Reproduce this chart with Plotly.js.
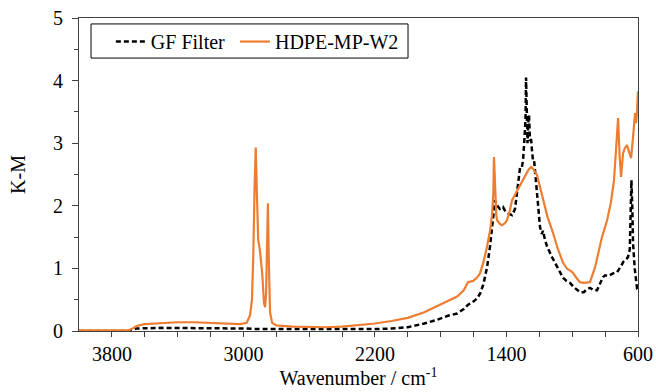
<!DOCTYPE html>
<html>
<head>
<meta charset="utf-8">
<script src="https://cdn.plot.ly/plotly-3.0.1.min.js"></script>
<style>html,body{margin:0;padding:0;background:#fff;}#chart{width:656px;height:392px;}</style>
</head>
<body>
<div id="chart"></div>
<script>
// GF Filter spectrum (wavenumber / cm-1, K-M)
const gfWavenumber = [4000,3700,3680,3650,3500,3300,3100,3000,2900,2800,2600,2400,2200,2100,2000,1968,1900,1822,1760,1700,1660,1634,1610,1579,1560,1540,1518,1500,1488,1478,1470,1460,1451,1440,1421,1405,1391,1366,1348,1330,1317,1306,1299,1290,1284,1281,1277,1272,1268,1263,1257,1250,1245,1239,1232,1222,1214,1196,1185,1178,1165,1153,1123,1093,1070,1056,1035,1014,990,970,953,930,910,892,870,849,831,813,800,780,752,727,700,691,670,661,650,645,640,635,630,620,606,600];
const gfKM = [0.0,0.0,0.02,0.04,0.05,0.05,0.045,0.04,0.03,0.03,0.025,0.02,0.03,0.04,0.06,0.08,0.12,0.18,0.24,0.28,0.35,0.42,0.45,0.52,0.6,0.75,1.02,1.35,1.66,1.9,2.09,2.02,1.98,1.95,1.98,1.9,1.88,1.85,1.95,2.3,2.62,2.62,2.73,3.1,3.4,4.05,3.3,3.0,3.3,3.45,3.05,3.05,2.89,2.73,2.73,2.4,2.17,1.66,1.55,1.6,1.45,1.35,1.18,1.02,0.9,0.85,0.8,0.77,0.7,0.65,0.62,0.62,0.67,0.69,0.65,0.65,0.77,0.86,0.89,0.88,0.92,0.94,1.05,1.1,1.15,1.18,1.3,2.0,2.41,2.0,1.4,1.0,0.69,0.7];

// HDPE-MP-W2 spectrum (wavenumber / cm-1, K-M)
const hdpeWavenumber = [4000,3800,3700,3680,3650,3600,3500,3400,3300,3200,3100,3020,2980,2960,2948,2940,2932,2925,2918,2910,2900,2885,2875,2868,2862,2856,2851,2846,2838,2825,2800,2700,2600,2500,2400,2300,2200,2100,2000,1900,1820,1750,1700,1660,1634,1603,1580,1561,1540,1518,1500,1488,1480,1476,1470,1462,1457,1440,1427,1410,1397,1380,1366,1340,1317,1290,1265,1250,1235,1214,1195,1178,1150,1117,1090,1056,1030,1010,995,975,953,930,910,892,861,840,819,788,765,746,733,721,712,703,691,680,667,650,642,630,618,612,606,600];
const hdpeKM = [0.01,0.01,0.01,0.03,0.08,0.11,0.13,0.14,0.14,0.13,0.12,0.11,0.13,0.25,0.5,1.2,2.3,2.93,2.2,1.45,1.3,0.9,0.45,0.38,0.6,1.5,2.04,1.2,0.3,0.13,0.09,0.07,0.06,0.06,0.07,0.09,0.12,0.16,0.21,0.3,0.4,0.48,0.55,0.65,0.78,0.8,0.85,0.92,1.1,1.35,1.6,1.85,2.2,2.78,2.2,1.85,1.77,1.71,1.69,1.72,1.77,1.92,2.09,2.22,2.33,2.47,2.58,2.62,2.58,2.49,2.3,2.09,1.82,1.57,1.33,1.09,0.99,0.96,0.93,0.85,0.78,0.77,0.77,0.78,1.02,1.25,1.5,1.77,2.05,2.41,2.94,3.4,2.8,2.46,2.84,2.92,2.97,2.85,2.76,3.1,3.48,3.32,3.5,3.83];

const xTickVals = [3800,3000,2200,1400,600];
const xTickText = ['3800','3000','2200','1400','600'];
const yTickVals = [0,1,2,3,4,5];
const yTickText = ['0','1','2','3','4','5'];

const traces = [
  {x: gfWavenumber, y: gfKM, type: 'scatter', mode: 'lines', name: 'GF Filter', legend: 'legend',
   line: {color: '#000000', width: 2.5, dash: '5px,3px'}},
  {x: hdpeWavenumber, y: hdpeKM, type: 'scatter', mode: 'lines', name: 'HDPE-MP-W2', legend: 'legend2',
   line: {color: '#ED7D31', width: 2.2}}
];

const serif = 'Liberation Serif, Times New Roman, serif';
const legendFont = {family: serif, size: 20, color: '#000'};

const layout = {
  width: 656, height: 392,
  margin: {l: 79, r: 18, t: 18, b: 61},
  paper_bgcolor: '#ffffff', plot_bgcolor: '#ffffff',
  font: {family: serif, color: '#000', size: 20},
  showlegend: true,
  legend: {orientation: 'h', x: 0.057, y: 0.987, xanchor: 'left', yanchor: 'top',
    borderwidth: 0, bgcolor: 'rgba(0,0,0,0)', font: legendFont},
  legend2: {orientation: 'h', x: 0.279, y: 0.987, xanchor: 'left', yanchor: 'top',
    borderwidth: 0, bgcolor: 'rgba(0,0,0,0)', font: legendFont},
  shapes: [{type: 'rect', xref: 'paper', yref: 'paper', x0: 0.0215, x1: 0.5886, y0: 0.872, y1: 0.981,
    line: {color: '#000', width: 1}, fillcolor: 'rgba(0,0,0,0)', layer: 'above'}],
  xaxis: {
    range: [4000, 600], autorange: false,
    tickvals: xTickVals, ticktext: xTickText,
    ticks: 'outside', ticklen: 5, tickwidth: 1, tickcolor: '#404040',
    minor: {tickvals: [3800,3600,3400,3200,3000,2800,2600,2400,2200,2000,1800,1600,1400,1200,1000,800,600], ticks: 'outside', ticklen: 5, tickcolor: '#404040'},
    showline: true, linecolor: '#404040', linewidth: 1, mirror: true,
    showgrid: false, zeroline: false,
    tickfont: {family: serif, size: 20, color: '#000'},
    title: {text: 'Wavenumber / cm<sup>-1</sup>', font: {family: serif, size: 20, color: '#000'}, standoff: 5}
  },
  yaxis: {
    range: [0, 5], autorange: false,
    tickvals: yTickVals, ticktext: yTickText,
    ticks: 'outside', ticklen: 6, tickwidth: 1, tickcolor: '#404040',
    ticklabelstandoff: 5,
    minor: {tickvals: [0.5,1.5,2.5,3.5,4.5], ticks: 'outside', ticklen: 4, tickcolor: '#404040'},
    showline: true, linecolor: '#404040', linewidth: 1, mirror: true,
    showgrid: false, zeroline: false,
    tickfont: {family: serif, size: 20, color: '#000'},
    title: {text: 'K-M', font: {family: serif, size: 20, color: '#000'}, standoff: 22}
  }
};

Plotly.newPlot('chart', traces, layout, {staticPlot: true, displayModeBar: false});
</script>
</body>
</html>
